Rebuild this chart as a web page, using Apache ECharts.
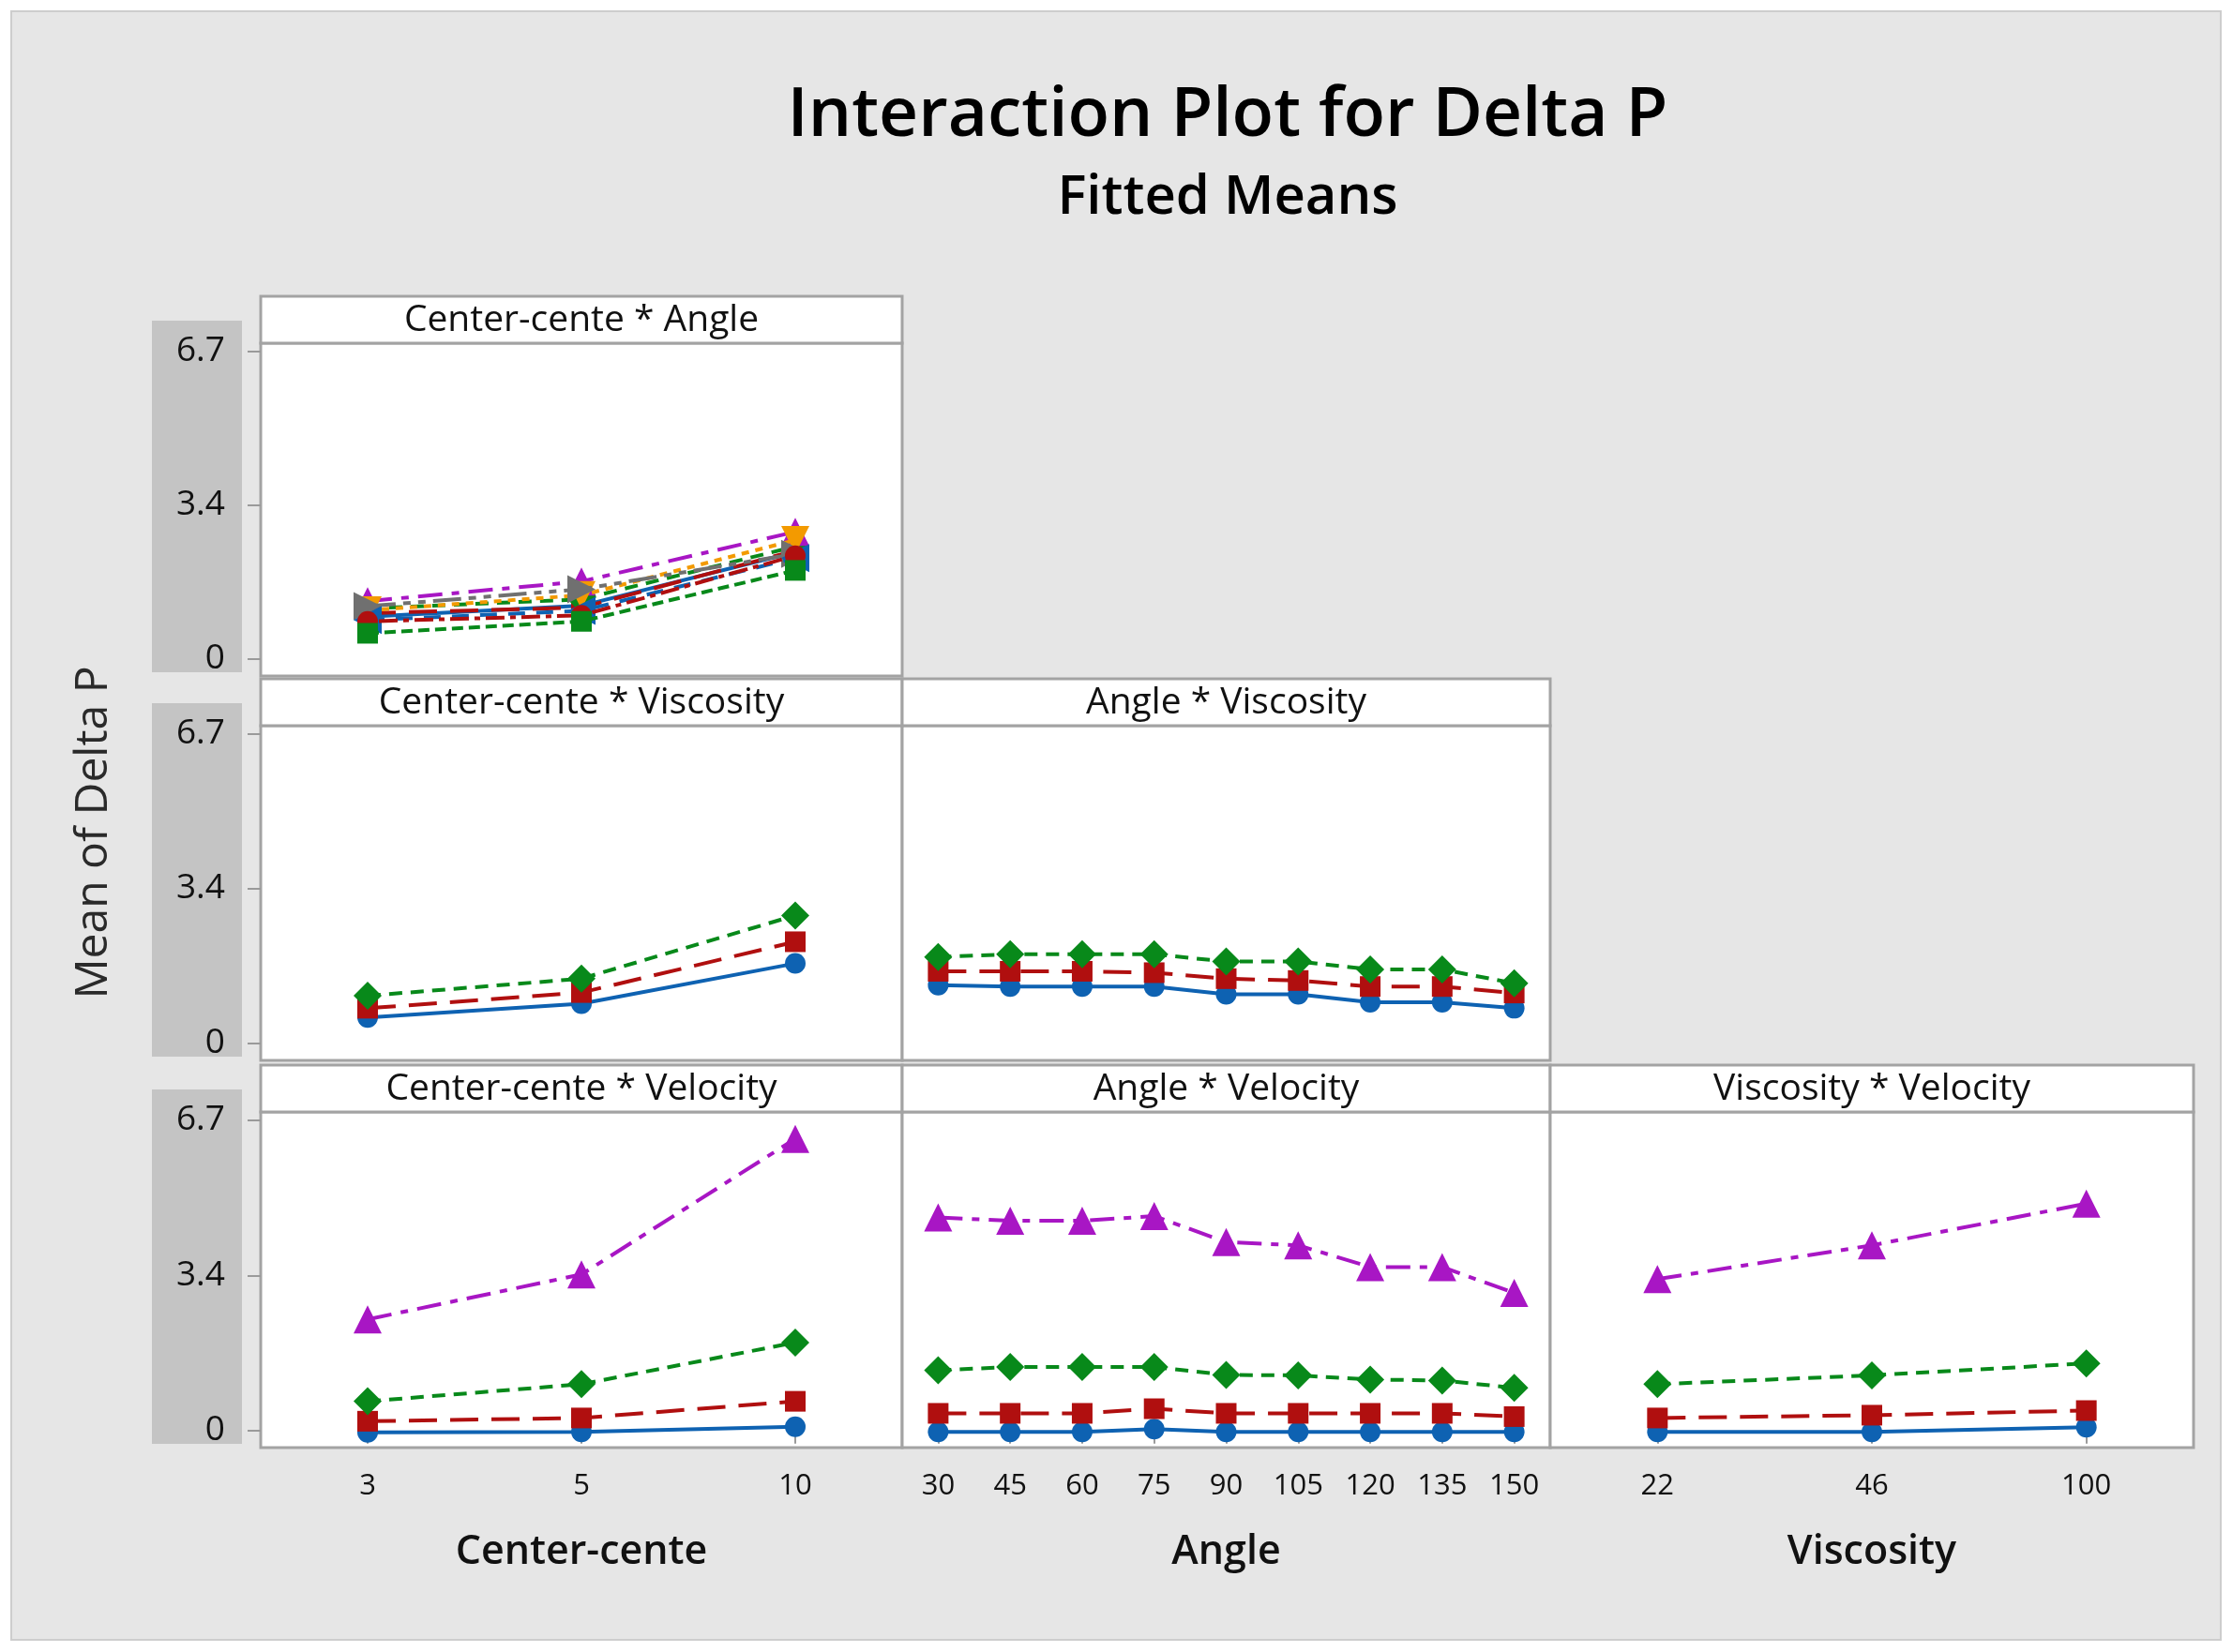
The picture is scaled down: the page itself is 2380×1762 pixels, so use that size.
<!DOCTYPE html>
<html><head><meta charset="utf-8">
<script src="https://cdn.jsdelivr.net/npm/echarts@6/dist/echarts.min.js"></script>
<style>html,body{margin:0;padding:0;background:#fff}#c{width:2380px;height:1762px}</style>
</head><body><div id="c"></div>
<script>
// ---------- DATA ----------
const centerLevels = ['3', '5', '10'];
const angleLevels = ['30', '45', '60', '75', '90', '105', '120', '135', '150'];
const viscosityLevels = ['22', '46', '100'];
const velocityLevels = ['Velocity 1', 'Velocity 2', 'Velocity 3', 'Velocity 4'];

const yTicks = [0, 3.35, 6.7];
const yTickLabels = ['0', '3.4', '6.7'];

// Center-cente * Angle : one line per Angle level, x = Center-cente
const centerAngle30  = [0.92, 1.16, 2.33];
const centerAngle45  = [1.00, 1.12, 2.36];
const centerAngle60  = [1.10, 1.30, 2.45];
const centerAngle75  = [1.26, 1.69, 2.77];
const centerAngle90  = [1.06, 1.39, 2.59];
const centerAngle105 = [1.15, 1.52, 2.29];
const centerAngle120 = [0.85, 1.05, 2.20];
const centerAngle135 = [0.82, 0.95, 2.25];
const centerAngle150 = [0.56, 0.82, 1.93];

// Center-cente * Viscosity : one line per Viscosity level
const centerVisc22  = [0.56, 0.86, 1.73];
const centerVisc46  = [0.76, 1.10, 2.20];
const centerVisc100 = [1.03, 1.40, 2.77];

// Angle * Viscosity
const angleVisc22  = [1.26, 1.23, 1.23, 1.23, 1.06, 1.06, 0.89, 0.89, 0.76];
const angleVisc46  = [1.56, 1.56, 1.56, 1.53, 1.40, 1.36, 1.23, 1.23, 1.09];
const angleVisc100 = [1.87, 1.93, 1.93, 1.93, 1.77, 1.77, 1.60, 1.60, 1.30];

// Center-cente * Velocity
const centerVel1 = [-0.04, -0.03, 0.08];
const centerVel2 = [0.20, 0.27, 0.63];
const centerVel3 = [0.63, 1.00, 1.90];
const centerVel4 = [2.40, 3.37, 6.30];

// Angle * Velocity
const angleVel1 = [-0.03, -0.03, -0.03, 0.03, -0.03, -0.03, -0.03, -0.03, -0.03];
const angleVel2 = [0.37, 0.37, 0.37, 0.47, 0.37, 0.37, 0.37, 0.37, 0.30];
const angleVel3 = [1.30, 1.37, 1.37, 1.37, 1.20, 1.19, 1.10, 1.08, 0.92];
const angleVel4 = [4.60, 4.53, 4.53, 4.63, 4.07, 4.00, 3.53, 3.53, 2.97];

// Viscosity * Velocity
const viscVel1 = [-0.03, -0.03, 0.07];
const viscVel2 = [0.27, 0.33, 0.43];
const viscVel3 = [1.00, 1.19, 1.45];
const viscVel4 = [3.27, 4.00, 4.90];

// ---------- STYLE ----------
const colors = ['#0e62b2', '#b00f0f', '#08891a', '#a816c4', '#f39a00', '#707070'];
const symbols = [['circle', 0], ['rect', 0], ['diamond', 0], ['triangle', 0], ['triangle', 180], ['triangle', -90], ['triangle', 90]];
const symSize = {circle: 22, rect: 22, diamond: 30, triangle: 30};
const dashes = ['solid', [30, 14], [14, 9], [26, 10, 8, 10], [8, 7], [30, 8, 8, 8, 8, 8], [18, 12], [6, 6, 20, 6], [12, 6]];

const colLeft = [278, 962, 1653], colW = [684, 691, 686];
const rowTop = [366, 774, 1186], rowH = [355, 357, 358];
const stripH = 50;
const frameColor = '#a3a3a3';
const FONT = '"Open Sans", "Noto Sans", sans-serif';

const panels = [
  {title: 'Center-cente * Angle', row: 0, col: 0, cats: centerLevels, names: angleLevels,
   lines: [centerAngle30, centerAngle45, centerAngle60, centerAngle75, centerAngle90, centerAngle105, centerAngle120, centerAngle135, centerAngle150]},
  {title: 'Center-cente * Viscosity', row: 1, col: 0, cats: centerLevels, names: viscosityLevels,
   lines: [centerVisc22, centerVisc46, centerVisc100]},
  {title: 'Angle * Viscosity', row: 1, col: 1, cats: angleLevels, names: viscosityLevels,
   lines: [angleVisc22, angleVisc46, angleVisc100]},
  {title: 'Center-cente * Velocity', row: 2, col: 0, cats: centerLevels, names: velocityLevels, xName: 'Center-cente',
   lines: [centerVel1, centerVel2, centerVel3, centerVel4]},
  {title: 'Angle * Velocity', row: 2, col: 1, cats: angleLevels, names: velocityLevels, xName: 'Angle',
   lines: [angleVel1, angleVel2, angleVel3, angleVel4]},
  {title: 'Viscosity * Velocity', row: 2, col: 2, cats: viscosityLevels, names: velocityLevels, xName: 'Viscosity',
   lines: [viscVel1, viscVel2, viscVel3, viscVel4]}
];

const grid = [], xAxis = [], yAxis = [], series = [];
const graphic = [
  {type: 'rect', z: -100, shape: {x: 12, y: 12, width: 2356, height: 1737},
   style: {fill: '#e6e6e6', stroke: '#cdcdcd', lineWidth: 2}},
  {type: 'text', x: 1309, y: 124, z: 10, style: {text: 'Interaction Plot for Delta P', align: 'center', verticalAlign: 'middle',
   font: '600 73px ' + FONT, fill: '#000'}},
  {type: 'text', x: 1309, y: 211, z: 10, style: {text: 'Fitted Means', align: 'center', verticalAlign: 'middle',
   font: '600 58px ' + FONT, fill: '#000'}},
  {type: 'text', x: 100, y: 888, rotation: Math.PI / 2, z: 10, style: {text: 'Mean of Delta P', align: 'center', verticalAlign: 'middle',
   font: '48px ' + FONT, fill: '#2a2a2a'}}
];

// gray label boxes for the y axes
for (let r = 0; r < 3; r++) {
  graphic.push({type: 'rect', z: -50, shape: {x: 162, y: rowTop[r] - 24, width: 96, height: rowH[r] + 20},
    style: {fill: '#c4c4c4'}});
}

function yLabel(v) {
  for (let i = 0; i < yTicks.length; i++) if (Math.abs(v - yTicks[i]) < 1e-6) return yTickLabels[i];
  return '';
}

panels.forEach((p, i) => {
  const isBottom = p.row === 2;
  const left = colLeft[p.col], top = rowTop[p.row], w = colW[p.col], h = rowH[p.row];
  grid.push({left: left, top: top, width: w, height: h, show: true, backgroundColor: '#fff',
    borderColor: frameColor, borderWidth: 3, containLabel: false});
  graphic.push({type: 'rect', z: 1, shape: {x: left, y: top - stripH, width: w, height: stripH},
    style: {fill: '#fff', stroke: frameColor, lineWidth: 3}});
  graphic.push({type: 'text', z: 2, x: left + w / 2, y: top - stripH / 2 + 1,
    style: {text: p.title, align: 'center', verticalAlign: 'middle', font: '39px ' + FONT, fill: '#111'}});
  xAxis.push({
    gridIndex: i, type: 'category', data: p.cats, boundaryGap: true,
    axisLine: {show: false},
    axisTick: {show: isBottom, alignWithLabel: true, interval: 0, length: 14, lineStyle: {color: '#9a9a9a', width: 2}},
    axisLabel: {show: isBottom, interval: 0, margin: 26, fontSize: 31, fontFamily: FONT, color: '#111'},
    splitLine: {show: false},
    name: isBottom ? p.xName : '', nameLocation: 'middle', nameGap: 90,
    nameTextStyle: {fontSize: 43, fontWeight: 600, fontFamily: FONT, color: '#111'}
  });
  yAxis.push({
    gridIndex: i, type: 'value', min: -0.37, max: 6.88,
    axisLine: {show: false}, splitLine: {show: false},
    axisTick: {show: p.col === 0, customValues: yTicks, length: 14, lineStyle: {color: '#9a9a9a', width: 2}},
    axisLabel: {show: p.col === 0, customValues: yTicks, formatter: yLabel, margin: 38,
      fontSize: 37, fontFamily: FONT, color: '#111'}
  });
  p.lines.forEach((vals, k) => {
    const sym = symbols[k % symbols.length];
    const col = colors[k % colors.length];
    series.push({
      type: 'line', name: p.names[k], xAxisIndex: i, yAxisIndex: i, data: vals,
      symbol: sym[0], symbolRotate: sym[1], symbolSize: symSize[sym[0]], showSymbol: true,
      itemStyle: {color: col}, lineStyle: {color: col, width: 4, type: dashes[k % dashes.length]},
      animation: false, z: 3 + k
    });
  });
});

const chart = echarts.init(document.getElementById('c'), null, {renderer: 'canvas'});
chart.setOption({
  backgroundColor: '#ffffff',
  animation: false,
  grid: grid, xAxis: xAxis, yAxis: yAxis, series: series, graphic: graphic
});
</script></body></html>
